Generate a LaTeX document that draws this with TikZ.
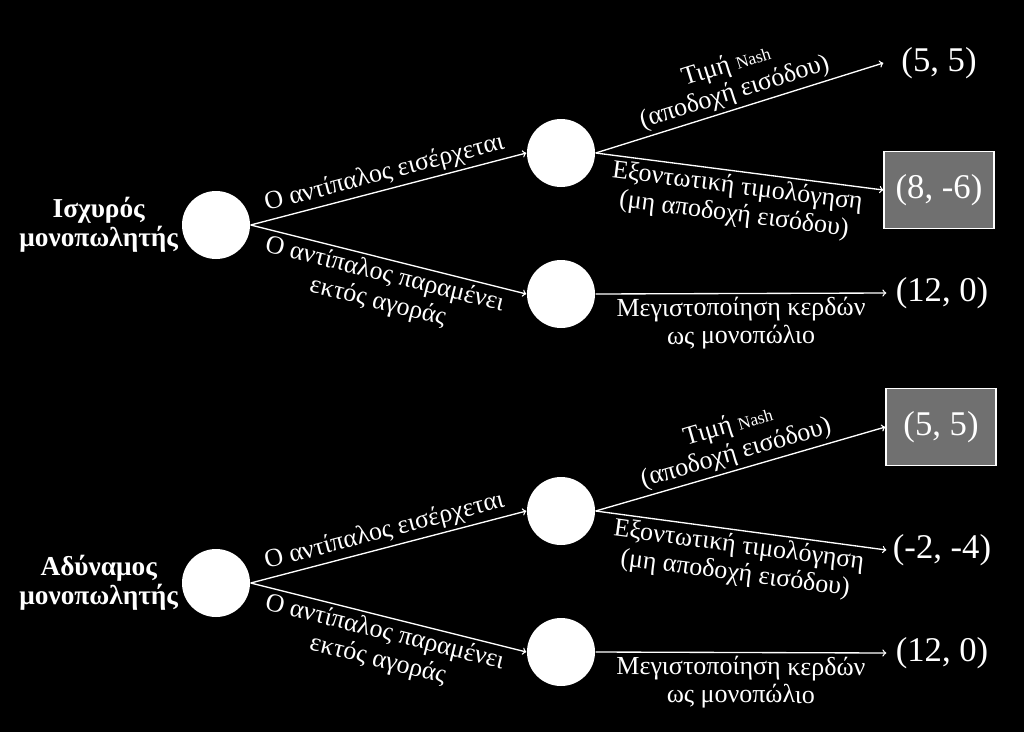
\documentclass[tikz,border=0pt]{standalone}
\usepackage{fontspec}
\setmainfont{Liberation Serif}
\usetikzlibrary{positioning}
\definecolor{boxgray}{RGB}{112,112,112}
\begin{document}
\begin{tikzpicture}[x=.75pt,y=-.75pt,>=to,white,line width=1pt,
  dec/.style={circle,fill=white,minimum size=51pt,inner sep=0pt},
  pay/.style={minimum width=82.5pt,minimum height=58pt,font=\fontsize{26}{30}\selectfont},
  best/.style={pay,fill=boxgray,draw=white},
  lab/.style={font=\fontsize{19.5}{21}\selectfont,align=center,sloped,inner sep=2.5pt},
  who/.style={font=\bfseries\fontsize{20.5}{22}\selectfont,align=center,inner sep=1pt}]
\fill[black](0,0)rectangle(1024,732);
% strong incumbent
\node[dec](r1)at(216,225){};
\node[dec](a1)at(561,153){};
\node[dec](b1)at(561,294){};
\node[who,left=1pt of r1](w1){Ισχυρός\\μονοπωλητής};
\node[pay](p11)at(939,63){(5, 5)};
\node[best](p12)at(939,190){(8, -6)};
\node[pay](p13)at(942,293){(12, 0)};
\draw[->](r1.east)--(a1.west)node[lab,midway,above]{Ο αντίπαλος εισέρχεται};
\draw[->](r1.east)--(b1.west)node[lab,midway,below]{Ο αντίπαλος παραμένει\\εκτός αγοράς};
\draw[->](a1.east)--(p11.west)node[lab,midway,above]{Τιμή {\fontsize{13}{13}\selectfont Nash}\\(αποδοχή εισόδου)};
\draw[->](a1.east)--(p12.west)node[lab,midway,below]{Εξοντωτική τιμολόγηση\\(μη αποδοχή εισόδου)};
\draw[->](b1.east)--(p13.west)node[lab,midway,below]{Μεγιστοποίηση κερδών\\ως μονοπώλιο};
% weak incumbent
\node[dec](r2)at(216,583){};
\node[dec](a2)at(561,511){};
\node[dec](b2)at(561,652){};
\node[who,left=1pt of r2](w2){Αδύναμος\\μονοπωλητής};
\node[best](p21)at(941,427){(5, 5)};
\node[pay](p22)at(942,550){(-2, -4)};
\node[pay](p23)at(942,653){(12, 0)};
\draw[->](r2.east)--(a2.west)node[lab,midway,above]{Ο αντίπαλος εισέρχεται};
\draw[->](r2.east)--(b2.west)node[lab,midway,below]{Ο αντίπαλος παραμένει\\εκτός αγοράς};
\draw[->](a2.east)--(p21.west)node[lab,midway,above]{Τιμή {\fontsize{13}{13}\selectfont Nash}\\(αποδοχή εισόδου)};
\draw[->](a2.east)--(p22.west)node[lab,midway,below]{Εξοντωτική τιμολόγηση\\(μη αποδοχή εισόδου)};
\draw[->](b2.east)--(p23.west)node[lab,midway,below]{Μεγιστοποίηση κερδών\\ως μονοπώλιο};
\end{tikzpicture}
\end{document}
